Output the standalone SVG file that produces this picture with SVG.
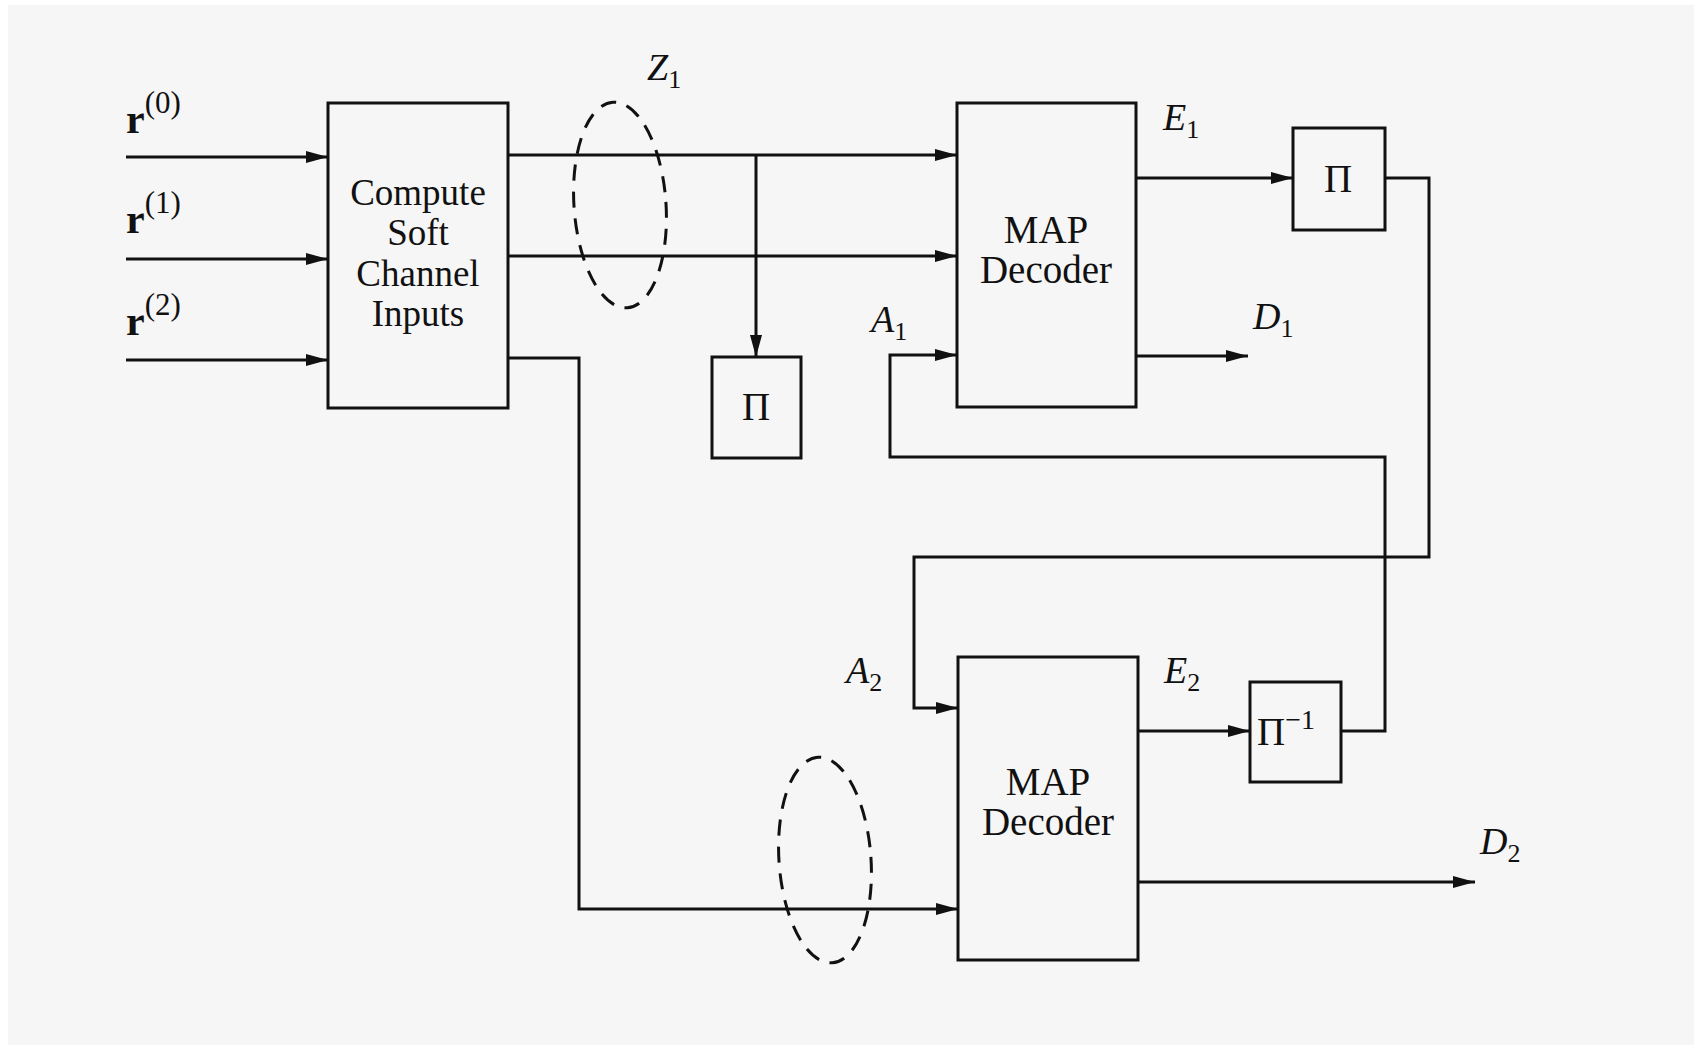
<svg xmlns="http://www.w3.org/2000/svg" width="1694" height="1045" viewBox="0 0 1694 1045">
  <style>
    .box { fill: none; stroke: #111; stroke-width: 3; }
    .wire { fill: none; stroke: #111; stroke-width: 3; }
    .dash { fill: none; stroke: #111; stroke-width: 3; stroke-dasharray: 16 11; }
    .t { font-family: "Liberation Serif", "Times New Roman", serif; fill: #111; }
    .c { text-anchor: middle; font-size: 39px; }
    .cc { text-anchor: middle; font-size: 37px; }
    .lab { font-size: 38px; font-style: italic; }
    .sub { font-size: 26px; font-style: normal; }
    .r { font-size: 42px; font-weight: bold; }
    .sup { font-size: 31px; font-weight: normal; }
  </style>
  <defs>
    <marker id="arr" markerUnits="userSpaceOnUse" markerWidth="22" markerHeight="12" refX="22" refY="6" orient="auto">
      <path d="M0,0 L22,6 L0,12 Z" fill="#111"/>
    </marker>
  </defs>
  <rect x="0" y="0" width="1694" height="1045" fill="#ffffff"/>
  <rect x="8" y="5" width="1686" height="1040" fill="#f6f6f6"/>

  <g id="connectors">
    <path class="wire" d="M126 157 H328" marker-end="url(#arr)"/>
    <path class="wire" d="M126 259 H328" marker-end="url(#arr)"/>
    <path class="wire" d="M126 360 H328" marker-end="url(#arr)"/>
    <path class="wire" d="M508 155 H957" marker-end="url(#arr)"/>
    <path class="wire" d="M508 256 H957" marker-end="url(#arr)"/>
    <path class="wire" d="M756 155 V357" marker-end="url(#arr)"/>
    <path class="wire" d="M508 358 H579 V909 H958" marker-end="url(#arr)"/>
    <path class="wire" d="M1136 178 H1293" marker-end="url(#arr)"/>
    <path class="wire" d="M1385 178 H1429 V557 H914 V708 H958" marker-end="url(#arr)"/>
    <path class="wire" d="M1136 356 H1248" marker-end="url(#arr)"/>
    <path class="wire" d="M1341 731 H1385 V457 H890 V355 H957" marker-end="url(#arr)"/>
    <path class="wire" d="M1138 731 H1250" marker-end="url(#arr)"/>
    <path class="wire" d="M1138 882 H1475" marker-end="url(#arr)"/>
    <ellipse class="dash" cx="620" cy="205" rx="46" ry="103" transform="rotate(-4 620 205)"/>
    <ellipse class="dash" cx="825" cy="860" rx="46" ry="103" transform="rotate(-4 825 860)"/>
  </g>

  <g id="inputs">
    <text class="t r" x="126" y="133">r<tspan class="sup" dy="-20">(0)</tspan></text>
    <text class="t r" x="126" y="233">r<tspan class="sup" dy="-20">(1)</tspan></text>
    <text class="t r" x="126" y="335">r<tspan class="sup" dy="-20">(2)</tspan></text>
  </g>

  <g id="compute">
    <rect class="box" x="328" y="103" width="180" height="305"/>
    <text class="t cc" x="418" y="205">Compute</text>
    <text class="t cc" x="418" y="245">Soft</text>
    <text class="t cc" x="418" y="286">Channel</text>
    <text class="t cc" x="418" y="326">Inputs</text>
  </g>

  <g id="pi_mid">
    <rect class="box" x="712" y="357" width="89" height="101"/>
    <text class="t c" x="756" y="420">Π</text>
  </g>

  <g id="decoder1">
    <rect class="box" x="957" y="103" width="179" height="304"/>
    <text class="t c" x="1046" y="243">MAP</text>
    <text class="t c" x="1046" y="283">Decoder</text>
  </g>

  <g id="pi_top">
    <rect class="box" x="1293" y="128" width="92" height="102"/>
    <text class="t c" x="1338" y="192">Π</text>
  </g>

  <g id="decoder2">
    <rect class="box" x="958" y="657" width="180" height="303"/>
    <text class="t c" x="1048" y="795">MAP</text>
    <text class="t c" x="1048" y="835">Decoder</text>
  </g>

  <g id="pi_inv">
    <rect class="box" x="1250" y="682" width="91" height="100"/>
    <text class="t" x="1257" y="745" font-size="39">Π<tspan font-size="28" dy="-16">−1</tspan></text>
  </g>

  <g id="labels">
    <text class="t lab" x="647" y="80">Z<tspan class="sub" dy="8">1</tspan></text>
    <text class="t lab" x="1163" y="130">E<tspan class="sub" dy="8">1</tspan></text>
    <text class="t lab" x="1253" y="329">D<tspan class="sub" dy="8">1</tspan></text>
    <text class="t lab" x="871" y="332">A<tspan class="sub" dy="8">1</tspan></text>
    <text class="t lab" x="846" y="683">A<tspan class="sub" dy="8">2</tspan></text>
    <text class="t lab" x="1164" y="683">E<tspan class="sub" dy="8">2</tspan></text>
    <text class="t lab" x="1480" y="854">D<tspan class="sub" dy="8">2</tspan></text>
  </g>
</svg>
